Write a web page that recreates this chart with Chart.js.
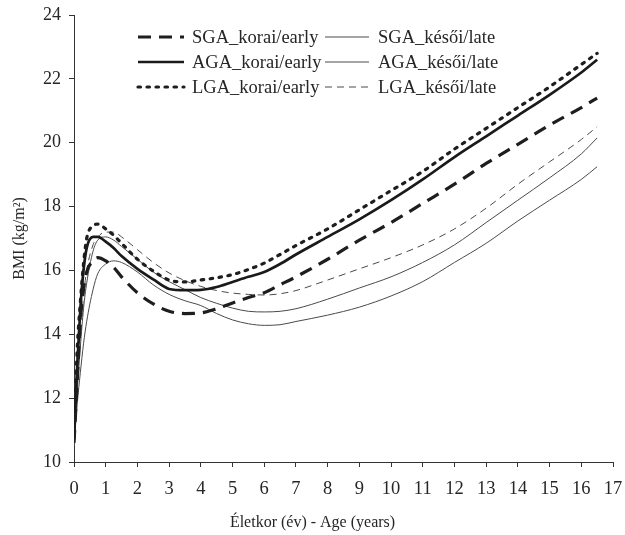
<!DOCTYPE html>
<html>
<head>
<meta charset="utf-8">
<script src="https://cdn.jsdelivr.net/npm/chart.js@4/dist/chart.umd.min.js"></script>
<style>
  html, body { margin: 0; padding: 0; background: #fff; }
  #wrap { width: 625px; height: 535px; }
</style>
</head>
<body>
<div id="wrap"><canvas id="c" width="625" height="535"></canvas></div>
<script>
const ages      = [0, 0.1, 0.2, 0.3, 0.4, 0.6, 0.75, 1, 1.25, 1.5, 2, 2.5, 3, 3.5, 4, 4.5, 5, 5.5, 6, 6.5, 7, 8, 9, 10, 11, 12, 13, 14, 15, 16, 16.5];
const sgaEarly  = [10.6, 12.5, 14.4, 15.4, 15.95, 16.3, 16.4, 16.3, 16.1, 15.8, 15.3, 14.95, 14.72, 14.65, 14.67, 14.8, 14.98, 15.15, 15.3, 15.55, 15.8, 16.35, 16.95, 17.5, 18.1, 18.7, 19.35, 19.95, 20.55, 21.1, 21.4];
const agaEarly  = [10.7, 13.0, 14.8, 16.0, 16.7, 17.05, 17.05, 16.9, 16.7, 16.45, 16.05, 15.72, 15.42, 15.38, 15.39, 15.48, 15.64, 15.8, 15.95, 16.2, 16.5, 17.05, 17.6, 18.2, 18.85, 19.55, 20.2, 20.85, 21.5, 22.2, 22.6];
const lgaEarly  = [10.8, 13.5, 15.0, 16.2, 17.0, 17.4, 17.45, 17.3, 17.1, 16.85, 16.35, 15.98, 15.7, 15.64, 15.7, 15.77, 15.87, 16.03, 16.23, 16.5, 16.78, 17.3, 17.9, 18.5, 19.1, 19.8, 20.45, 21.1, 21.75, 22.45, 22.8];
const sgaLate   = [10.5, 11.8, 12.8, 13.7, 14.4, 15.4, 15.9, 16.2, 16.3, 16.25, 15.95, 15.55, 15.25, 15.05, 14.9, 14.65, 14.45, 14.33, 14.28, 14.3, 14.4, 14.6, 14.85, 15.2, 15.65, 16.25, 16.85, 17.55, 18.2, 18.85, 19.25];
const agaLate   = [10.6, 12.2, 13.6, 14.8, 15.6, 16.6, 16.95, 17.05, 16.95, 16.75, 16.35, 15.95, 15.65, 15.4, 15.15, 14.97, 14.82, 14.72, 14.7, 14.72, 14.8, 15.1, 15.45, 15.8, 16.25, 16.8, 17.5, 18.2, 18.9, 19.65, 20.15];
const lgaLate   = [10.7, 12.5, 14.0, 15.2, 16.0, 16.8, 17.05, 17.2, 17.2, 17.05, 16.65, 16.25, 15.92, 15.68, 15.5, 15.37, 15.29, 15.25, 15.23, 15.27, 15.37, 15.7, 16.05, 16.4, 16.8, 17.3, 17.95, 18.7, 19.4, 20.1, 20.5];

const seriesLabels = ['SGA_korai/early', 'AGA_korai/early', 'LGA_korai/early', 'SGA_késői/late', 'AGA_késői/late', 'LGA_késői/late'];
const xTitle = 'Életkor (év) - Age (years)';
const yTitle = 'BMI (kg/m²)';

const FONT = '"Liberation Serif", "Times New Roman", serif';
const INK = '#262626';

function pts(arr) { return ages.map((a, i) => ({ x: a, y: arr[i] })); }

const styles = [
  { borderWidth: 3.2, borderDash: [13, 8], borderColor: '#1e1e1e' },
  { borderWidth: 2.7, borderDash: [],      borderColor: '#1a1a1a' },
  { borderWidth: 3.2, borderDash: [2.5, 6.5], borderColor: '#1e1e1e' },
  { borderWidth: 1,   borderDash: [],      borderColor: '#4a4a4a' },
  { borderWidth: 1,   borderDash: [],      borderColor: '#4a4a4a' },
  { borderWidth: 1,   borderDash: [7, 5],  borderColor: '#4a4a4a' }
];
const values = [sgaEarly, agaEarly, lgaEarly, sgaLate, agaLate, lgaLate];

const datasets = values.map((v, i) => Object.assign({
  label: seriesLabels[i],
  data: pts(v),
  fill: false,
  pointRadius: 0,
  cubicInterpolationMode: 'monotone',
  borderCapStyle: i === 2 ? 'round' : 'butt'
}, styles[i]));

const legendPlugin = {
  id: 'twoColLegend',
  afterDatasetsDraw(chart) {
    const ctx = chart.ctx;
    const cols = [{ x0: 138, x1: 184, tx: 192 }, { x0: 325, x1: 369, tx: 378 }];
    const rows = [37, 62, 87];
    ctx.save();
    ctx.font = '18.5px ' + FONT;
    ctx.textBaseline = 'middle';
    ctx.fillStyle = INK;
    chart.data.datasets.forEach((ds, i) => {
      const c = cols[Math.floor(i / 3)];
      const y = rows[i % 3];
      ctx.beginPath();
      ctx.lineWidth = ds.borderWidth;
      ctx.strokeStyle = ds.borderColor;
      ctx.setLineDash(ds.borderDash || []);
      ctx.lineCap = ds.borderCapStyle || 'butt';
      ctx.moveTo(c.x0, y);
      ctx.lineTo(c.x1, y);
      ctx.stroke();
      ctx.setLineDash([]);
      ctx.fillText(ds.label, c.tx, y + 1);
    });
    // x-axis title, centred on the page like the reference
    ctx.font = '16px ' + FONT;
    ctx.textAlign = 'center';
    ctx.fillText(xTitle, chart.width / 2, 523);
    ctx.restore();
  }
};

new Chart(document.getElementById('c'), {
  type: 'line',
  data: { datasets },
  options: {
    responsive: false,
    animation: false,
    layout: { padding: { top: 15, right: 12, left: 0, bottom: 0 } },
    plugins: { legend: { display: false }, tooltip: { enabled: false } },
    scales: {
      x: {
        type: 'linear', min: 0, max: 17,
        ticks: { stepSize: 1, color: INK, font: { family: FONT, size: 18.5 }, padding: 11, maxRotation: 0, autoSkip: false },
        grid: { display: true, drawOnChartArea: false, drawTicks: true, tickLength: 5, color: '#333' },
        border: { display: true, color: '#333', width: 1 },
        title: { display: false },
        afterFit(s) { s.height = 73; s.paddingLeft = 0; s.paddingRight = 0; }
      },
      y: {
        min: 10, max: 24,
        ticks: { stepSize: 2, color: INK, font: { family: FONT, size: 18 }, padding: 8 },
        grid: { display: true, drawOnChartArea: false, drawTicks: true, tickLength: 5, color: '#333' },
        border: { display: true, color: '#333', width: 1 },
        title: { display: true, text: yTitle, color: INK, font: { family: FONT, size: 16 }, padding: { top: 10, bottom: 4 } },
        afterFit(s) { s.width = 74; s.paddingTop = 0; s.paddingBottom = 0; }
      }
    }
  },
  plugins: [legendPlugin]
});
</script>
</body>
</html>
